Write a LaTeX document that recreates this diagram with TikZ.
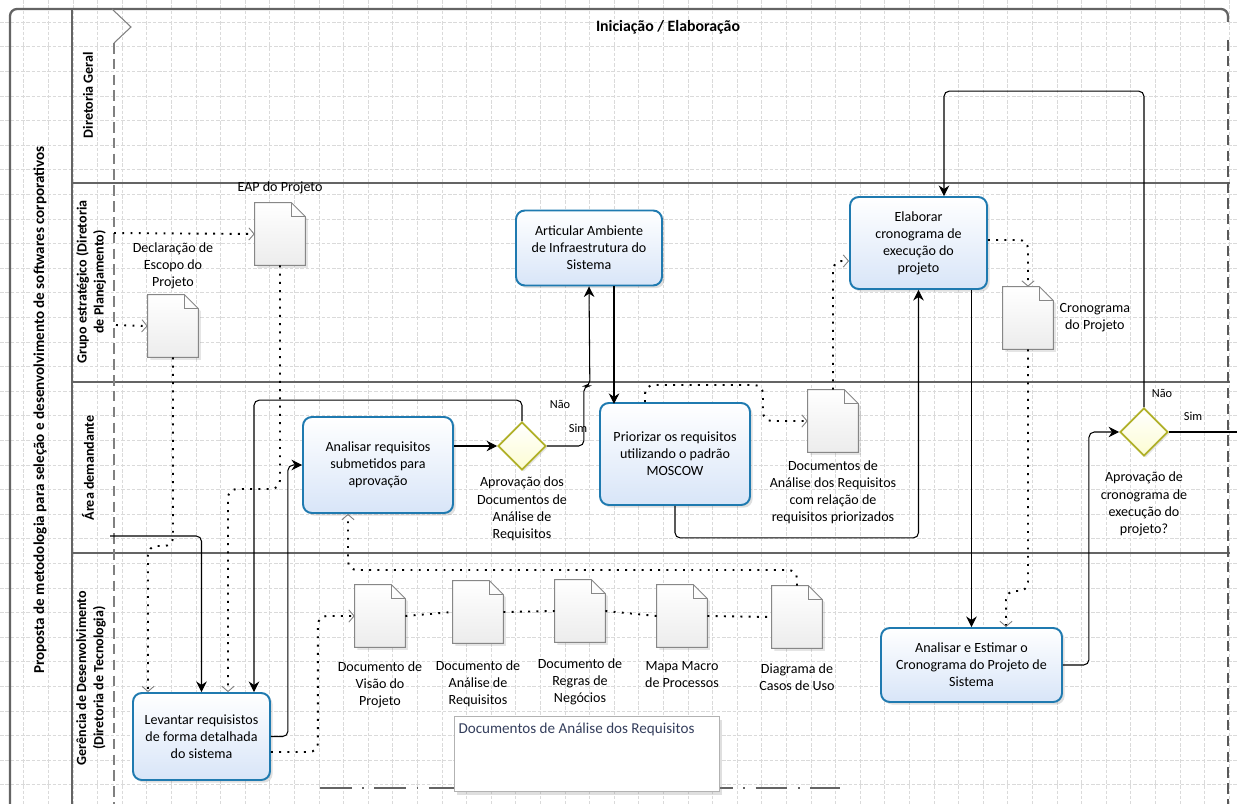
\documentclass[tikz,border=0pt]{standalone}
\usepackage{fontspec}
\setmainfont{Carlito}
\usepackage{tikz}
\usetikzlibrary{positioning,shapes.geometric,arrows.meta,shadows}

\definecolor{taskblue}{RGB}{31,122,176}
\definecolor{taskfill}{RGB}{216,229,248}
\definecolor{gateline}{RGB}{176,176,40}
\definecolor{gatefill}{RGB}{252,252,210}
\definecolor{docline}{RGB}{135,135,135}
\definecolor{docfill}{RGB}{236,236,236}
\definecolor{laneline}{RGB}{100,100,100}
\definecolor{gridgray}{RGB}{218,218,218}
\definecolor{annottext}{RGB}{52,62,92}

\tikzset{
  task/.style={draw=taskblue, line width=1.1pt, rounded corners=5pt, top color=white,
    bottom color=taskfill, align=center, inner sep=2pt, font=\fontsize{8}{9.7}\selectfont,
    drop shadow={shadow xshift=1.5pt, shadow yshift=-1.5pt, opacity=0.25}},
  gate/.style={diamond, draw=gateline, line width=1pt, top color=white, bottom color=gatefill,
    minimum size=0.96cm, inner sep=0pt,
    drop shadow={shadow xshift=1pt, shadow yshift=-1pt, opacity=0.2}},
  docdraw/.style={draw=docline, line width=0.5pt, top color=white, bottom color=docfill},
  dataobj/.style={minimum width=1cm, minimum height=1.24cm, inner sep=0pt,
    append after command={\pgfextra{
      \draw[docdraw, drop shadow={shadow xshift=1.5pt, shadow yshift=-1.5pt, opacity=0.2}]
        (\tikzlastnode.south west) -- (\tikzlastnode.north west)
        -- ([xshift=-0.28cm]\tikzlastnode.north east) -- ([yshift=-0.28cm]\tikzlastnode.north east)
        -- (\tikzlastnode.south east) -- cycle;
      \draw[draw=docline, line width=0.5pt] ([xshift=-0.28cm]\tikzlastnode.north east) |- ([yshift=-0.28cm]\tikzlastnode.north east);
    }}},
  doclabel/.style={align=center, inner sep=0pt, font=\fontsize{8}{9.7}\selectfont},
  gatelabel/.style={align=center, inner sep=0pt, font=\fontsize{8}{9.7}\selectfont},
  flowlabel/.style={inner sep=0pt, font=\fontsize{7}{8}\selectfont},
  lanelabel/.style={rotate=90, align=center, inner sep=0pt, font=\bfseries\fontsize{8}{9.7}\selectfont},
  seqflow/.style={draw=black, line width=0.6pt, rounded corners=3pt, -{Stealth[length=6pt,width=6pt]}},
  assoc/.style={draw=black, line width=1.1pt, dash pattern=on 1.1pt off 3.6pt, rounded corners=5pt,
    -{Straight Barb[length=3pt,width=7pt,line width=0.5pt,color=gray]}},
  laneline/.style={draw=laneline, line width=1.3pt},
  gridline/.style={draw=gridgray, line width=0.3pt, dash pattern=on 2pt off 1pt}
}

\begin{document}
\begin{tikzpicture}[x=0.02cm, y=-0.02cm]

\useasboundingbox (0,0) rectangle (1237,804);
\fill[white] (0,0) rectangle (1237,804);

%% grid
\foreach \i in {0,...,49}
  \draw[gridline] ({23.7+24.6*\i},0) -- ++(0,804);
\foreach \j in {0,...,31}
  \draw[gridline] (0,{22.1+24.6*\j}) -- ++(1237,0);

%% pool, lanes and phase
\draw[laneline, rounded corners=4pt] (10,804) -- (10,9) -- (1228,9) -- (1228,22);
\draw[laneline] (72,9) -- (72,804);
\foreach \y in {183,382,553}
  \draw[laneline] (72,\y) -- (1230,\y);
\draw[gray, line width=0.6pt] (112,9) -- (131,27) -- (114,43);
\draw[gray, line width=0.8pt, dash pattern=on 6pt off 3pt] (114,43) -- (114,804);
\draw[gray!70!black, line width=0.8pt, dash pattern=on 6pt off 3pt] (1228,40) -- (1228,804);

\node[font=\bfseries\fontsize{9}{11}\selectfont] (phase) at (668,27) {Iniciação / Elaboração};
\node[lanelabel, font=\bfseries\fontsize{8.6}{10}\selectfont] (pool) at (40,410)
  {Proposta de metodologia para seleção e desenvolvimento de softwares corporativos};
\node[lanelabel] (lgeral) at (88,95) {Diretoria Geral};
\node[lanelabel] (lgrupo) at (91,282) {Grupo estratégico (Diretoria\\de Planejamento)};
\node[lanelabel] (larea) at (88,468) {Área demandante};
\node[lanelabel] (lgerencia) at (91,678) {Gerência de Desenvolvimento\\(Diretoria de Tecnologia)};

%% group of documents
\draw[laneline, line width=1pt, dash pattern=on 18pt off 6pt on 1pt off 6pt] (320,788) -- (840,788);
\node[draw=gray!60, fill=white, minimum width=5.3cm, minimum height=1.5cm,
  drop shadow={shadow xshift=1.5pt, shadow yshift=-2pt, opacity=0.25}] (grp) at (587,754) {};
\node[anchor=north west, inner sep=0pt, text=annottext, font=\fontsize{8.6}{10}\selectfont]
  (grptxt) at ([shift={(0.08cm,-0.12cm)}]grp.north west) {Documentos de Análise dos Requisitos};

%% tasks
\node[task, minimum width=2.74cm, minimum height=1.74cm] (lev) at (201.5,736.5)
  {Levantar requisistos\\de forma detalhada\\do sistema};
\node[task, minimum width=3cm, minimum height=1.92cm] (ana) at (378,465)
  {Analisar requisitos\\submetidos para\\aprovação};
\node[task, minimum width=2.92cm, minimum height=1.5cm] (art) at (589,248)
  {Articular Ambiente\\de Infraestrutura do\\Sistema};
\node[task, minimum width=3cm, minimum height=2.04cm] (pri) at (675,454)
  {Priorizar os requisitos\\utilizando o padrão\\MOSCOW};
\node[task, minimum width=2.74cm, minimum height=1.84cm] (ela) at (918.5,243)
  {Elaborar\\cronograma de\\execução do\\projeto};
\node[task, minimum width=3.62cm, minimum height=1.48cm] (est) at (971.5,665)
  {Analisar e Estimar o\\Cronograma do Projeto de\\Sistema};

%% gateways
\node[gate] (g1) at (522,446) {};
\node[gatelabel, below=0.12cm of g1] (g1txt) {Aprovação dos\\Documentos de\\Análise de\\Requisitos};
\node[gate] (g2) at (1144,432) {};
\node[gatelabel, below=0.3cm of g2] (g2txt) {Aprovação de\\cronograma de\\execução do\\projeto?};
\node[flowlabel] (g1nao) at (560,404) {Não};
\node[flowlabel] (g1sim) at (578,428) {Sim};
\node[flowlabel] (g2nao) at (1162,393) {Não};
\node[flowlabel] (g2sim) at (1193,416) {Sim};

%% data objects
\node[dataobj] (eap) at (280,234) {};
\node[doclabel, above=0.16cm of eap] (eaptxt) {EAP do Projeto};
\node[dataobj] (esc) at (173,326) {};
\node[doclabel, above=0.1cm of esc] (esctxt) {Declaração de\\Escopo do\\Projeto};
\node[dataobj] (dar) at (833,421) {};
\node[doclabel, below=0.16cm of dar] (dartxt)
  {Documentos de\\Análise dos Requisitos\\com relação de\\requisitos priorizados};
\node[dataobj] (cro) at (1028,318) {};
\node[doclabel, right=0.12cm of cro] (crotxt) {Cronograma\\do Projeto};
\node[dataobj] (dv) at (380,616) {};
\node[doclabel, below=0.28cm of dv] (dvtxt) {Documento de\\Visão do\\Projeto};
\node[dataobj] (dan) at (478,612) {};
\node[doclabel, below=0.34cm of dan] (dantxt) {Documento de\\Análise de\\Requisitos};
\node[dataobj] (drn) at (580,611) {};
\node[doclabel, below=0.32cm of drn] (drntxt) {Documento de\\Regras de\\Negócios};
\node[dataobj] (mmp) at (682,616) {};
\node[doclabel, below=0.28cm of mmp] (mmptxt) {Mapa Macro\\de Processos};
\node[dataobj] (dcu) at (797,617) {};
\node[doclabel, below=0.3cm of dcu] (dcutxt) {Diagrama de\\Casos de Uso};

%% free ends and bend points
\coordinate (s1in) at (110,536);
\coordinate (gout) at (1237,432);
\coordinate (a1in) at (114,233);
\coordinate (a2in) at (116,325);
\coordinate (a3) at (148,546);
\coordinate (a4) at (228,489);
\coordinate (a7) at (348,570);
\coordinate (a12) at (1006,591);

%% sequence flows
\draw[seqflow] (s1in) -| (lev.north);
\draw[seqflow] (lev.east) -- ++(17,0) |- (ana.west);
\draw[seqflow] (g1.north) -- ++(0,-21) -| ([xshift=1.05cm]lev.north);
\draw[seqflow] (g1.west -| ana.east) -- (g1.west);
\draw[seqflow] (g1.east) -- ++(37,0) -- ++(0,-60) -- ++(6,0) -- (art.south);
\draw[seqflow] ([xshift=0.5cm]art.south) -- ++(0,117.5);
\draw[seqflow] (pri.south) -- ++(0,32) -| (ela.south);
\draw[seqflow] (ela.south -| est.north) -- (est.north);
\draw[seqflow] (est.east) -- ++(26,0) |- (g2.west);
\draw[seqflow] (g2.north) -- ++(0,-316) -| ([xshift=0.51cm]ela.north);
\draw[seqflow, -] (g2.east) -- (gout);

%% associations
\draw[assoc] (a1in) -- (eap.west);
\draw[assoc] (a2in) -- (esc.west);
\draw[assoc] (esc.south) |- (a3) -- (a3 |- lev.north);
\draw[assoc] (eap.south) |- (a4) -- (a4 |- lev.north);
\draw[assoc] ([yshift=-0.31cm]lev.east) -- ++(47,0) |- (dv.west);
\draw[assoc, -] (dv.east) -- (dan.west);
\draw[assoc, -] (dan.east) -- (drn.west);
\draw[assoc, -] (drn.east) -- (mmp.west);
\draw[assoc, -] (mmp.east) -- (dcu.west);
\draw[assoc] (dcu.north) |- (a7) -- (a7 |- ana.south);
\draw[assoc] ([xshift=-0.6cm]pri.north) |- (763,385) |- (dar.west);
\draw[assoc] (dar.north) |- ([yshift=-0.36cm]ela.west);
\draw[assoc] ([yshift=0.06cm]ela.east) -| (cro.north);
\draw[assoc] (cro.south) |- (a12) -- (a12 |- est.north);

\end{tikzpicture}
\end{document}
